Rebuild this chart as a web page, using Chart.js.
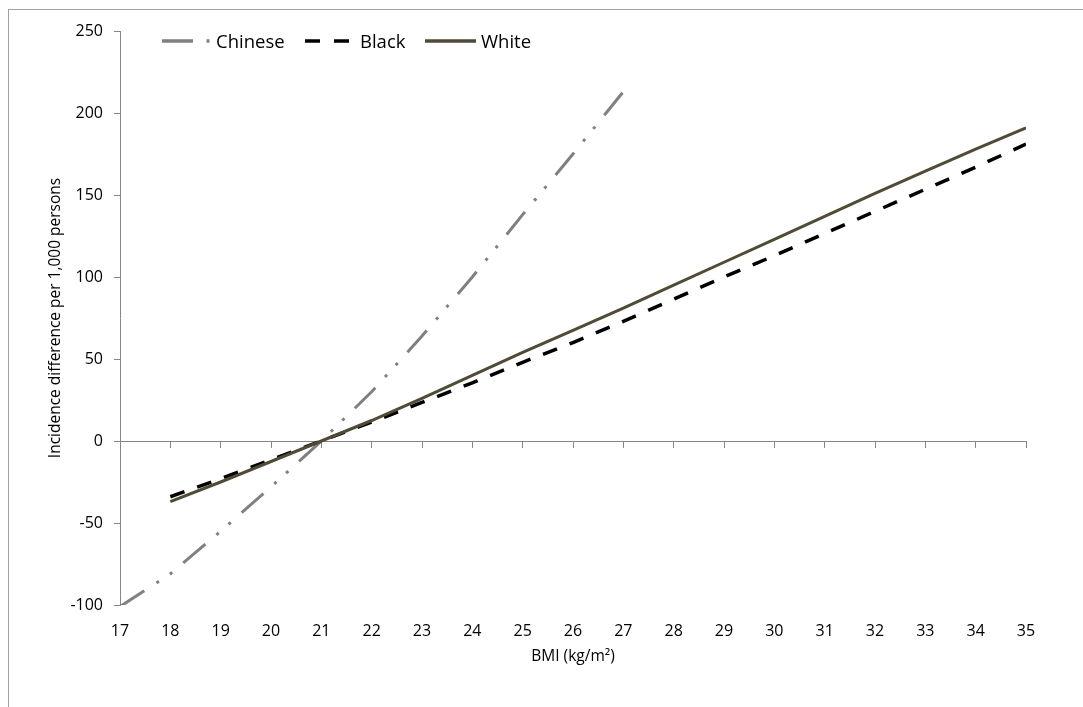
<!DOCTYPE html>
<html>
<head>
<meta charset="utf-8">
<title>Incidence difference by BMI</title>
<script src="https://cdn.jsdelivr.net/npm/chart.js@4.4.1/dist/chart.umd.min.js"></script>
<style>
  html, body { margin: 0; padding: 0; background: #fff; }
  #wrap { position: relative; width: 1083px; height: 707px; overflow: hidden; }
  #frame { position: absolute; left: 8px; top: 9px; width: 1200px; height: 800px;
           border-left: 1px solid #a0a0a0; border-top: 1px solid #a0a0a0; }
  canvas { position: absolute; left: 0; top: 0; }
  #legend svg { position: absolute; left: 0; top: 0; }
  .lab { position: absolute; top: 28px; line-height: 26px; font-family: "Open Sans", sans-serif;
         font-size: 18.5px; color: #000; white-space: nowrap; }
</style>
</head>
<body>
<div id="wrap">
  <div id="frame"></div>
  <canvas id="grafico" width="1083" height="707"></canvas>
  <div id="legend">
    <svg width="1083" height="60">
      <line x1="162" y1="41" x2="211" y2="41" stroke="#808080" stroke-width="3.5" stroke-dasharray="31 13.5 3 100"/>
      <line x1="305" y1="41" x2="349" y2="41" stroke="#000" stroke-width="3.5" stroke-dasharray="15 14"/>
      <line x1="425" y1="41" x2="476" y2="41" stroke="#4f4b36" stroke-width="3.5"/>
    </svg>
    <span class="lab" style="left:216px">Chinese</span>
    <span class="lab" style="left:360px">Black</span>
    <span class="lab" style="left:481px">White</span>
  </div>
</div>
<script>
// Eixo X (BMI) e valores
const bmiChinese = [17, 18, 19, 20, 21, 22, 23, 24, 25, 26, 27];
const bmiOutros = [18, 19, 20, 21, 22, 23, 24, 25, 26, 27, 28, 29, 30, 31, 32, 33, 34, 35];

const chinese = [-101, -81, -55, -28, 0, 30, 64, 100, 138, 175, 213];
const black = [-34, -23, -11.5, 0, 11.5, 23.5, 35.5, 48, 60, 73, 86.5, 100, 113, 126.5, 140, 153.5, 167, 181];
const white = [-37, -25, -12.5, 0, 12.5, 26, 40, 54, 67.5, 81, 95, 109, 123, 137, 151, 164.5, 178, 191];

const xMin = 17, xMax = 35, xStep = 1;
const yMin = -100, yMax = 250, yStep = 50;

const fonte = "'Open Sans', sans-serif";
const cinzaEixo = "#868686";

function pontos(xs, ys) {
  return xs.map((x, i) => ({ x: x, y: ys[i] }));
}

new Chart(document.getElementById("grafico"), {
  type: "line",
  data: {
    datasets: [
      {
        label: "Chinese",
        data: pontos(bmiChinese, chinese),
        borderColor: "#808080",
        borderWidth: 3,
        borderDash: [29, 14.5, 3, 13, 3, 14.5],
        pointRadius: 0,
        tension: 0,
        order: 3
      },
      {
        label: "Black",
        data: pontos(bmiOutros, black),
        borderColor: "#000000",
        borderWidth: 3.5,
        borderDash: [15, 13.5],
        pointRadius: 0,
        tension: 0,
        order: 2
      },
      {
        label: "White",
        data: pontos(bmiOutros, white),
        borderColor: "#4f4b36",
        borderWidth: 3,
        pointRadius: 0,
        tension: 0,
        order: 1
      }
    ]
  },
  options: {
    responsive: false,
    animation: false,
    devicePixelRatio: 1,
    layout: { padding: { top: 31, right: 57, bottom: 41, left: 0 } },
    plugins: {
      legend: { display: false },
      tooltip: { enabled: false }
    },
    scales: {
      x: {
        type: "linear",
        position: "bottom",
        min: xMin,
        max: xMax,
        afterFit: s => { s.height = 61; },
        border: { display: false },
        grid: { display: false, drawTicks: false },
        ticks: {
          stepSize: xStep,
          autoSkip: false,
          maxRotation: 0,
          padding: 17,
          color: "#000",
          font: { family: fonte, size: 16 }
        },
        title: {
          display: true,
          text: "BMI (kg/m²)",
          color: "#000",
          font: { family: fonte, size: 15.5 },
          padding: { top: 0, bottom: 0 }
        }
      },
      // linha do zero com as marcas de escala
      x2: {
        type: "linear",
        position: { y: 0 },
        min: xMin,
        max: xMax,
        border: { color: cinzaEixo, width: 1 },
        grid: { drawOnChartArea: false, drawTicks: true, tickLength: 6, color: cinzaEixo },
        ticks: { stepSize: xStep, display: false }
      },
      y: {
        min: yMin,
        max: yMax,
        afterFit: s => { s.width = 120; },
        border: { color: cinzaEixo, width: 1 },
        grid: { drawOnChartArea: false, drawTicks: true, tickLength: 6, color: cinzaEixo },
        ticks: {
          stepSize: yStep,
          padding: 11,
          color: "#000",
          font: { family: fonte, size: 16 }
        },
        title: {
          display: true,
          text: "Incidence difference per 1,000 persons",
          color: "#000",
          font: { family: fonte, size: 15.5 },
          padding: { top: 46.5, bottom: 0 }
        }
      }
    }
  }
});
</script>
</body>
</html>
